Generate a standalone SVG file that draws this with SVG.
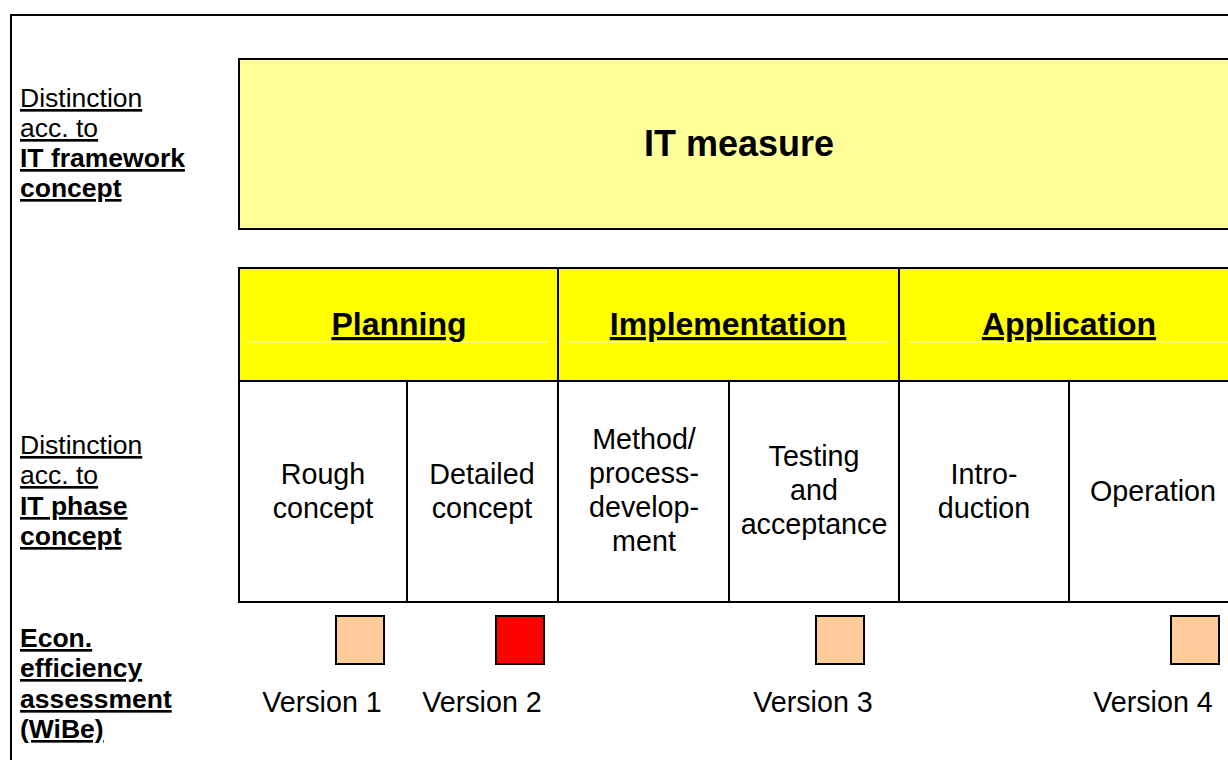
<svg xmlns="http://www.w3.org/2000/svg" width="1228" height="760" viewBox="0 0 1228 760">
<style>
text{font-family:"Liberation Sans",Arial,sans-serif;fill:#000}
.lbl{font-size:26.5px;text-decoration:underline}
.b{font-weight:bold}
.cell{font-size:28.7px;text-anchor:middle}
.ph{font-size:32px;font-weight:bold;text-anchor:middle;text-decoration:underline}
.ln{stroke:#000;stroke-width:2;fill:none}
.sq{stroke:#000;stroke-width:2}
.faint{stroke:#ffffcc;stroke-width:1}
</style>
<g id="frame">
<path class="ln" d="M11 760 V15 H1228"/>
</g>
<g id="labels">
<text class="lbl" x="20" y="107">Distinction</text>
<text class="lbl" x="20" y="137">acc. to</text>
<text class="lbl b" x="20" y="167">IT framework</text>
<text class="lbl b" x="20" y="197">concept</text>
<text class="lbl" x="20" y="454">Distinction</text>
<text class="lbl" x="20" y="484">acc. to</text>
<text class="lbl b" x="20" y="515">IT phase</text>
<text class="lbl b" x="20" y="545">concept</text>
<text class="lbl b" x="20" y="647">Econ.</text>
<text class="lbl b" x="20" y="677">efficiency</text>
<text class="lbl b" x="20" y="708">assessment</text>
<text class="lbl b" x="20" y="738">(WiBe)</text>
</g>
<g id="it-measure">
<path d="M239 229 V59 H1228 V229 Z" fill="#ffff99" stroke="none"/>
<path class="ln" d="M1228 229 H239 V59 H1228"/>
<text x="739" y="156" font-size="36" font-weight="bold" text-anchor="middle">IT measure</text>
</g>
<g id="phases">
<rect x="239" y="268" width="989" height="113" fill="#ffff00"/>
<line class="faint" x1="248" y1="342" x2="548" y2="342"/>
<line class="faint" x1="567" y1="342" x2="889" y2="342"/>
<line class="faint" x1="908" y1="342" x2="1228" y2="342"/>
<path class="ln" d="M1228 268 H239 V602 H1228 M239 381 H1228 M558 268 V602 M899 268 V602 M407 381 V602 M729 381 V602 M1069 381 V602"/>
</g>
<g id="planning"><text class="ph" x="399" y="335">Planning</text></g>
<g id="implementation"><text class="ph" x="728" y="335">Implementation</text></g>
<g id="application"><text class="ph" x="1069" y="335">Application</text></g>
<g id="rough-concept">
<text class="cell" x="323" y="484">Rough</text>
<text class="cell" x="323" y="518">concept</text>
</g>
<g id="detailed-concept">
<text class="cell" x="482" y="484">Detailed</text>
<text class="cell" x="482" y="518">concept</text>
</g>
<g id="method-development">
<text class="cell" x="644" y="449">Method/</text>
<text class="cell" x="644" y="483">process-</text>
<text class="cell" x="644" y="517">develop-</text>
<text class="cell" x="644" y="551">ment</text>
</g>
<g id="testing">
<text class="cell" x="814" y="466">Testing</text>
<text class="cell" x="814" y="500">and</text>
<text class="cell" x="814" y="534">acceptance</text>
</g>
<g id="introduction">
<text class="cell" x="984" y="484">Intro-</text>
<text class="cell" x="984" y="518">duction</text>
</g>
<g id="operation">
<text class="cell" x="1153" y="501">Operation</text>
</g>
<g id="version1">
<rect class="sq" x="336" y="616" width="48" height="48" fill="#ffcc99"/>
<text class="cell" x="322" y="712">Version 1</text>
</g>
<g id="version2">
<rect class="sq" x="496" y="616" width="48" height="48" fill="#ff0000"/>
<text class="cell" x="482" y="712">Version 2</text>
</g>
<g id="version3">
<rect class="sq" x="816" y="616" width="48" height="48" fill="#ffcc99"/>
<text class="cell" x="813" y="712">Version 3</text>
</g>
<g id="version4">
<rect class="sq" x="1171" y="616" width="48" height="48" fill="#ffcc99"/>
<text class="cell" x="1153" y="712">Version 4</text>
</g>
<g id="connectors"></g>
</svg>
